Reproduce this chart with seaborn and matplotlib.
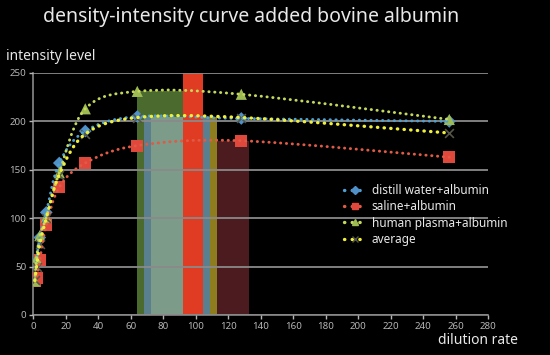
import numpy as np
import matplotlib
matplotlib.use("Agg")
import matplotlib.pyplot as plt
from matplotlib.path import Path
from matplotlib.patches import PathPatch
from matplotlib.lines import Line2D
import seaborn as sns

# values
dilution = [1, 2, 4, 8, 16, 32, 64, 128, 256]
distill = [37, 55, 80, 106, 157, 190, 205, 203, 200]
saline = [35, 38, 57, 93, 132, 157, 175, 180, 163]
plasma = [35, 58, 82, 101, 147, 213, 231, 228, 202]
average = [36, 50, 73, 100, 145, 187, 204, 204, 188]

labels = ["distill water+albumin", "saline+albumin",
          "human plasma+albumin", "average"]

# coloured bands behind the curves (start, end, top in data units)
band_start = [64, 68, 72.6, 92, 109, 113]
band_end = [92, 109, 92, 104.5, 113, 132.7]
band_top = [231, 205, 205, 250, 205, 180]
band_colors = ["#4a6b2d", "#5a8090", "#7c9b88", "#e03b23", "#8d7d1e", "#4c1b1f"]

sns.set_theme(style="dark", rc={
    "figure.facecolor": "black", "axes.facecolor": "black",
    "axes.edgecolor": "#8a8a8a", "grid.color": "#8a8a8a",
    "text.color": "white", "xtick.color": "#b5b5b5", "ytick.color": "#b5b5b5",
})
plt.rcParams["font.family"] = ["Noto Sans", "DejaVu Sans"]

fig = plt.figure(figsize=(5.5, 3.55), dpi=100)
ax = fig.add_axes([0.0605, 0.1127, 0.8273, 0.6817])

ax.bar(band_start, band_top, width=np.subtract(band_end, band_start),
       align="edge", color=band_colors, edgecolor="none", zorder=1)


def smooth_path(xs, ys):
    pts = np.column_stack([xs, ys]).astype(float)
    n = len(pts)
    verts, codes = [pts[0]], [Path.MOVETO]
    for i in range(n - 1):
        p0, p1 = pts[max(i - 1, 0)], pts[i]
        p2, p3 = pts[i + 1], pts[min(i + 2, n - 1)]
        verts += [p1 + (p2 - p0) / 6, p2 - (p3 - p1) / 6, p2]
        codes += [Path.CURVE4] * 3
    return Path(verts, codes)


dots = (0, (0.1, 1.9))
series = [
    (distill, "#4fa0d2", "#4f90c8", "D", 42),
    (saline, "#e05a45", "#e0483c", "s", 75),
    (plasma, "#c5d85a", "#9dbb52", "^", 65),
    (average, "#f0f03a", "#555548", "x", 40),
]

handles = []
for k, (vals, lc, mc, mk, sz) in enumerate(series):
    ax.add_patch(PathPatch(smooth_path(dilution, vals), fill=False, edgecolor=lc,
                           lw=2.4 if k == 3 else 2.1, linestyle=dots,
                           capstyle="round", zorder=4 + k))
    sns.scatterplot(x=dilution, y=vals, marker=mk, s=sz, color=mc,
                    edgecolor="none" if mk != "x" else None,
                    linewidth=1.2 if mk == "x" else 0, ax=ax, zorder=3 + k * 0.1,
                    legend=False)
    handles.append(Line2D([], [], color=lc, lw=2.4, linestyle=(0, (0.1, 2.2)),
                          dash_capstyle="round", marker=mk, markersize=4.5,
                          markerfacecolor=mc, markeredgecolor=mc))

ax.set_xlim(0, 280)
ax.set_ylim(0, 250)
ax.set_xticks(range(0, 281, 20))
ax.set_yticks(range(0, 251, 50))
ax.tick_params(labelsize=7, length=3, width=1, pad=2, direction="out",
               bottom=True, left=True)
ax.grid(axis="y", lw=1.3)
ax.grid(axis="x", visible=False)
ax.set_axisbelow(False)
for s in ["top", "right"]:
    ax.spines[s].set_visible(False)
for s in ["left", "bottom"]:
    ax.spines[s].set_linewidth(1.2)

fig.text(0.457, 0.953, "density-intensity curve added bovine albumin",
         ha="center", va="center", fontsize=14, color="#e8e8e8")
fig.text(0.011, 0.842, "intensity level", ha="left", va="center",
         fontsize=10, color="#e8e8e8")
fig.text(0.942, 0.042, "dilution rate", ha="right", va="center",
         fontsize=10, color="#e8e8e8")

leg = ax.legend(handles, labels, loc="upper left",
                bbox_to_anchor=(0.6255, 0.482), bbox_transform=fig.transFigure,
                frameon=False, fontsize=8.5, handlelength=1.9, handletextpad=0.45,
                labelspacing=0.28, borderpad=0, borderaxespad=0, numpoints=1)
for t in leg.get_texts():
    t.set_color("#e8e8e8")

fig.savefig("out.png", dpi=100, facecolor="black")
